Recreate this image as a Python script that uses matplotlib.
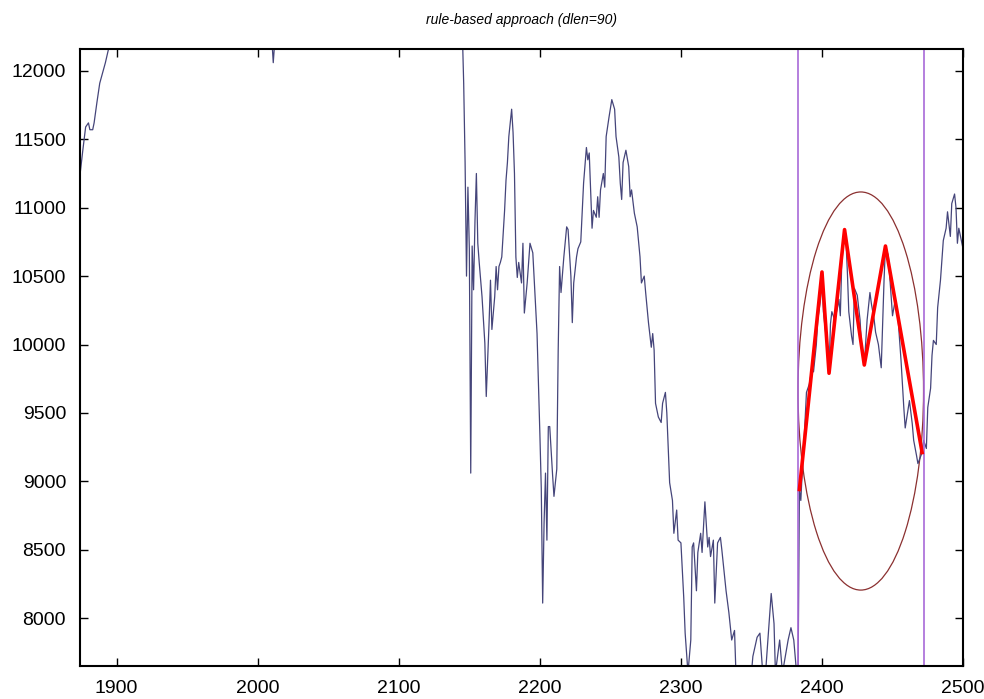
import matplotlib.pyplot as plt
from matplotlib.patches import Ellipse

# Index series (day number, closing value)
days = [1874, 1876, 1878, 1880, 1881, 1883, 1884, 1886, 1888, 1890, 1892, 1894,
        1897, 1900, 1920, 1950, 1980, 2005, 2009, 2011, 2013, 2030, 2060, 2090,
        2120, 2140, 2145, 2146, 2147, 2148, 2149, 2150, 2151, 2152, 2153, 2154,
        2155, 2156, 2157, 2159, 2161, 2162, 2164, 2165, 2166, 2168, 2169, 2170,
        2171, 2172, 2173, 2175, 2176, 2177, 2178, 2180, 2181, 2182, 2183, 2184,
        2185, 2187, 2188, 2189, 2191, 2193, 2195, 2198, 2200, 2201, 2202, 2203,
        2204, 2205, 2206, 2207, 2209, 2210, 2212, 2213, 2214, 2215, 2217, 2219,
        2220, 2222, 2223, 2224, 2226, 2227, 2229, 2231, 2233, 2234, 2235, 2236,
        2237, 2238, 2240, 2241, 2242, 2243, 2245, 2246, 2247, 2249, 2251, 2253,
        2254, 2256, 2257, 2258, 2259, 2261, 2263, 2264, 2265, 2267, 2269, 2271,
        2272, 2274, 2275, 2277, 2279, 2280, 2281, 2282, 2284, 2286, 2287, 2289,
        2290, 2292, 2294, 2295, 2297, 2298, 2300, 2302, 2303, 2305, 2307, 2308,
        2309, 2311, 2312, 2314, 2315, 2317, 2319, 2320, 2321, 2323, 2324, 2326,
        2328, 2329, 2332, 2334, 2336, 2338, 2339, 2345, 2350, 2351, 2354, 2356,
        2358, 2360, 2362, 2364, 2366, 2367, 2370, 2371, 2372, 2376, 2378, 2380,
        2382, 2383, 2384, 2385, 2386, 2387, 2389, 2391, 2393, 2394, 2396, 2397,
        2399, 2400, 2401, 2404, 2405, 2406, 2407, 2409, 2411, 2412, 2413, 2414,
        2416, 2417, 2418, 2419, 2421, 2422, 2423, 2425, 2427, 2428, 2430, 2432,
        2434, 2435, 2437, 2438, 2440, 2442, 2444, 2445, 2447, 2449, 2450, 2452,
        2454, 2456, 2457, 2458, 2459, 2462, 2464, 2465, 2467, 2468, 2471, 2472,
        2474, 2475, 2477, 2478, 2479, 2481, 2482, 2484, 2485, 2486, 2488, 2489,
        2491, 2492, 2494, 2495, 2496, 2497, 2500]
values = [11240, 11420, 11590, 11620, 11570, 11570, 11620, 11770, 11910, 11985, 12060, 12150,
          12300, 12450, 12900, 13400, 13100, 12700, 12400, 12060, 12350, 12800, 13500, 13900,
          13300, 12700, 12300, 11910, 11330, 10500, 11150, 10700, 9060, 10720, 10400, 10900,
          11250, 10740, 10600, 10350, 10010, 9620, 10160, 10470, 10110, 10350, 10570, 10400,
          10570, 10600, 10640, 10980, 11200, 11330, 11520, 11720, 11550, 11250, 10640, 10490,
          10600, 10450, 10740, 10230, 10450, 10740, 10670, 10080, 9350, 8950, 8110, 8700,
          9060, 8570, 9400, 9400, 9050, 8890, 9090, 9960, 10570, 10380, 10640, 10860,
          10840, 10500, 10160, 10450, 10640, 10700, 10750, 11180, 11440, 11350, 11400, 11130,
          10850, 10980, 10930, 11080, 10930, 11130, 11250, 11150, 11520, 11660, 11790, 11720,
          11520, 11370, 11180, 11060, 11330, 11420, 11300, 11080, 11130, 10960, 10860, 10640,
          10450, 10500, 10380, 10160, 9980, 10080, 9960, 9570, 9470, 9430, 9570, 9650,
          9500, 8990, 8860, 8620, 8790, 8570, 8550, 8150, 7890, 7600, 7840, 8520,
          8550, 8200, 8480, 8620, 8480, 8850, 8520, 8590, 8450, 8570, 8110, 8550,
          8590, 8500, 8200, 8040, 7840, 7910, 7600, 7400, 7600, 7720, 7860, 7890,
          7600, 7600, 7890, 8180, 7960, 7600, 7840, 7720, 7600, 7840, 7930, 7840,
          7600, 7500, 8940, 8860, 9070, 9240, 9650, 9710, 9830, 9800, 10000, 10180,
          10330, 10530, 10240, 9950, 9790, 10150, 10240, 10180, 10270, 10330, 10210, 10590,
          10840, 10760, 10530, 10240, 10060, 10000, 10410, 10360, 10180, 10000, 9850, 10180,
          10380, 10300, 10180, 10090, 10000, 9830, 10470, 10720, 10650, 10350, 10210, 10330,
          10180, 9890, 9710, 9540, 9390, 9590, 9420, 9300, 9190, 9130, 9210, 9300,
          9240, 9540, 9680, 9920, 10030, 10000, 10270, 10470, 10620, 10760, 10850, 10970,
          10790, 11030, 11100, 11000, 10740, 10850, 10700]

# Turning points picked by the rules
pattern_days = [2384, 2400, 2405, 2416, 2430, 2445, 2471]
pattern_values = [8940, 10530, 9790, 10840, 9850, 10720, 9210]

# Search window and the ellipse drawn around the pattern
window = [2383, 2472]
ellipse_low, ellipse_high = 8205, 11115

plt.rcParams['font.family'] = ['Liberation Sans', 'DejaVu Sans']

fig = plt.figure(figsize=(9.84, 6.99), dpi=100)
ax = fig.add_axes([0.0813, 0.0472, 0.8974, 0.8827])

ax.plot(days, values, color='#45457a', linewidth=0.9)

for d in window:
    ax.axvline(d, color='#a86ad8', linewidth=1.2)

ell = Ellipse(((window[0] + window[1]) / 2, (ellipse_low + ellipse_high) / 2),
              window[1] - window[0], ellipse_high - ellipse_low,
              fill=False, edgecolor='#8b3030', linewidth=0.9)
ax.add_patch(ell)

ax.plot(pattern_days, pattern_values, color='#ff0000', linewidth=2.6)

ax.set_xlim(1874, 2500)
ax.set_ylim(7650, 12160)
ax.set_xticks(range(1900, 2501, 100))
ax.set_yticks(range(8000, 12001, 500))
ax.tick_params(direction='in', length=6, width=1, top=True, right=True,
               labelsize=14, pad=10)
for s in ax.spines.values():
    s.set_linewidth(1.5)

fig.text(0.53, 0.972, 'rule-based approach (dlen=90)', ha='center', va='center',
         fontsize=10, style='italic')

plt.savefig('out.png', dpi=100)
